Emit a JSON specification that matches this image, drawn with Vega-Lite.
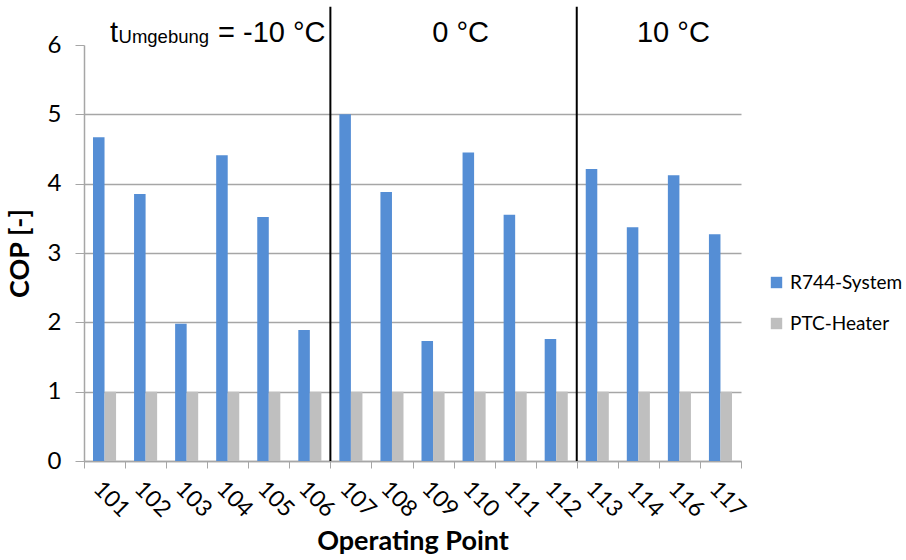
{
  "$schema": "https://vega.github.io/schema/vega-lite/v6.json",
  "width": 657,
  "height": 416,
  "autosize": "none",
  "padding": {"left": 84, "top": 45, "right": 165, "bottom": 99},
  "config": {
    "view": {"stroke": null},
    "font": "Lato",
    "axis": {"labelColor": "#000000", "titleColor": "#000000"}
  },
  "datasets": {
    "cop": [
      {"op": "101", "system": "R744-System", "cop": 4.67},
      {"op": "101", "system": "PTC-Heater", "cop": 1.0},
      {"op": "102", "system": "R744-System", "cop": 3.85},
      {"op": "102", "system": "PTC-Heater", "cop": 1.0},
      {"op": "103", "system": "R744-System", "cop": 1.98},
      {"op": "103", "system": "PTC-Heater", "cop": 1.0},
      {"op": "104", "system": "R744-System", "cop": 4.41},
      {"op": "104", "system": "PTC-Heater", "cop": 1.0},
      {"op": "105", "system": "R744-System", "cop": 3.52},
      {"op": "105", "system": "PTC-Heater", "cop": 1.0},
      {"op": "106", "system": "R744-System", "cop": 1.89},
      {"op": "106", "system": "PTC-Heater", "cop": 1.0},
      {"op": "107", "system": "R744-System", "cop": 5.0},
      {"op": "107", "system": "PTC-Heater", "cop": 1.0},
      {"op": "108", "system": "R744-System", "cop": 3.88},
      {"op": "108", "system": "PTC-Heater", "cop": 1.0},
      {"op": "109", "system": "R744-System", "cop": 1.73},
      {"op": "109", "system": "PTC-Heater", "cop": 1.0},
      {"op": "110", "system": "R744-System", "cop": 4.45},
      {"op": "110", "system": "PTC-Heater", "cop": 1.0},
      {"op": "111", "system": "R744-System", "cop": 3.55},
      {"op": "111", "system": "PTC-Heater", "cop": 1.0},
      {"op": "112", "system": "R744-System", "cop": 1.76},
      {"op": "112", "system": "PTC-Heater", "cop": 1.0},
      {"op": "113", "system": "R744-System", "cop": 4.21},
      {"op": "113", "system": "PTC-Heater", "cop": 1.0},
      {"op": "114", "system": "R744-System", "cop": 3.37},
      {"op": "114", "system": "PTC-Heater", "cop": 1.0},
      {"op": "116", "system": "R744-System", "cop": 4.12},
      {"op": "116", "system": "PTC-Heater", "cop": 1.0},
      {"op": "117", "system": "R744-System", "cop": 3.27},
      {"op": "117", "system": "PTC-Heater", "cop": 1.0}
    ],
    "separators": [
      {"op": "107"},
      {"op": "113"}
    ]
  },
  "layer": [
    {
      "data": {"name": "cop"},
      "mark": {"type": "bar"},
      "encoding": {
        "x": {
          "field": "op",
          "type": "ordinal",
          "scale": {"paddingInner": 0, "paddingOuter": 0},
          "axis": {
            "title": "Operating Point",
            "titleFontSize": 27,
            "titleFontWeight": "bold",
            "titlePadding": 7,
            "labelFontSize": 23,
            "labelAngle": 45,
            "labelAlign": "left",
            "labelBaseline": "top",
            "labelPadding": 9,
            "tickBand": "extent",
            "tickSize": 7,
            "tickColor": "#a6a6a6",
            "domainColor": "#a6a6a6",
            "domainWidth": 1.5
          }
        },
        "xOffset": {
          "field": "system",
          "type": "nominal",
          "sort": ["R744-System", "PTC-Heater"],
          "scale": {"paddingInner": 0, "paddingOuter": 0.78}
        },
        "y": {
          "field": "cop",
          "type": "quantitative",
          "scale": {"domain": [0, 6], "nice": false},
          "axis": {
            "title": "COP [-]",
            "titleFontSize": 27,
            "titleFontWeight": "bold",
            "titlePadding": 13,
            "values": [0, 1, 2, 3, 4, 5, 6],
            "format": "d",
            "labelFontSize": 24,
            "labelPadding": 14,
            "tickSize": 9,
            "tickColor": "#a6a6a6",
            "domainColor": "#a6a6a6",
            "domainWidth": 1.5,
            "grid": true,
            "gridColor": "#a6a6a6",
            "gridWidth": 1.5,
            "gridOpacity": {"condition": {"test": "datum.value === 6", "value": 0}, "value": 1}
          }
        },
        "color": {
          "field": "system",
          "type": "nominal",
          "scale": {"domain": ["R744-System", "PTC-Heater"], "range": ["#558ED5", "#BFBFBF"]},
          "legend": {
            "title": null,
            "orient": "none",
            "legendX": 683,
            "legendY": 228,
            "symbolType": "square",
            "symbolSize": 130,
            "symbolStrokeWidth": 0,
            "labelFontSize": 19,
            "labelOffset": 4,
            "rowPadding": 21,
            "labelColor": "#000000"
          }
        }
      }
    },
    {
      "data": {"name": "separators"},
      "mark": {"type": "rule", "color": "#000000", "strokeWidth": 2},
      "encoding": {
        "x": {"field": "op", "type": "ordinal", "bandPosition": 0},
        "y": {"datum": 0},
        "y2": {"datum": 6.55}
      }
    },
    {
      "data": {"values": [{"op": "101", "label": "t"}]},
      "mark": {"type": "text", "font": "Liberation Sans", "fontSize": 29, "align": "left", "baseline": "alphabetic", "dx": 5.5, "color": "#000000"},
      "encoding": {
        "x": {"field": "op", "type": "ordinal"},
        "y": {"datum": 6.043},
        "text": {"field": "label"}
      }
    },
    {
      "data": {"values": [{"op": "101", "label": "Umgebung"}]},
      "mark": {"type": "text", "font": "Liberation Sans", "fontSize": 18.5, "align": "left", "baseline": "alphabetic", "dx": 14, "color": "#000000"},
      "encoding": {
        "x": {"field": "op", "type": "ordinal"},
        "y": {"datum": 6.022},
        "text": {"field": "label"}
      }
    },
    {
      "data": {"values": [{"op": "101", "label": "= -10 °C"}]},
      "mark": {"type": "text", "font": "Liberation Sans", "fontSize": 29, "align": "left", "baseline": "alphabetic", "dx": 113.5, "color": "#000000"},
      "encoding": {
        "x": {"field": "op", "type": "ordinal"},
        "y": {"datum": 6.043},
        "text": {"field": "label"}
      }
    },
    {
      "data": {"values": [{"op": "110", "label": "0 °C"}]},
      "mark": {"type": "text", "font": "Liberation Sans", "fontSize": 29, "align": "center", "baseline": "alphabetic", "dx": -13.5, "color": "#000000"},
      "encoding": {
        "x": {"field": "op", "type": "ordinal"},
        "y": {"datum": 6.043},
        "text": {"field": "label"}
      }
    },
    {
      "data": {"values": [{"op": "116", "label": "10 °C"}]},
      "mark": {"type": "text", "font": "Liberation Sans", "fontSize": 29, "align": "center", "baseline": "alphabetic", "dx": -6, "color": "#000000"},
      "encoding": {
        "x": {"field": "op", "type": "ordinal"},
        "y": {"datum": 6.043},
        "text": {"field": "label"}
      }
    }
  ]
}
